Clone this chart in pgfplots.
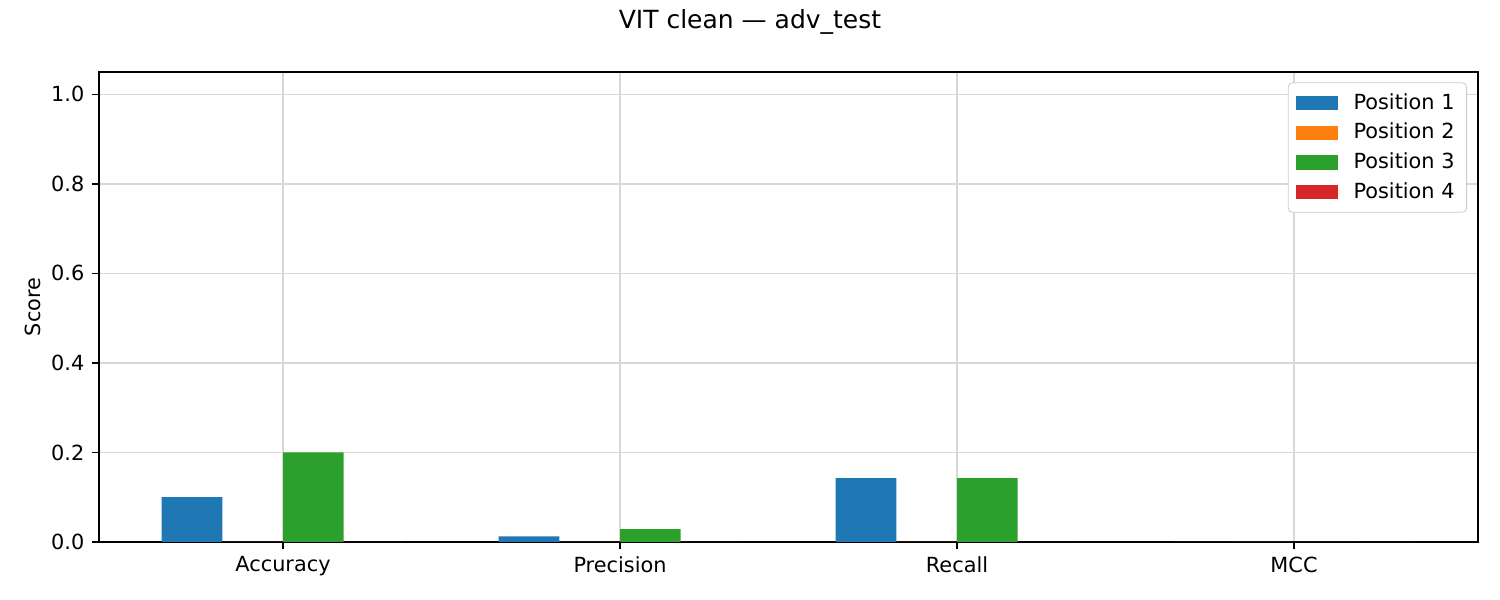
\documentclass[border=0pt]{standalone}
\usepackage{fontspec}
\setmainfont{DejaVu Sans}
\usepackage{pgfplots}
\pgfplotsset{compat=1.18}
\definecolor{c1}{HTML}{1F77B4}
\definecolor{c2}{HTML}{FF7F0E}
\definecolor{c3}{HTML}{2CA02C}
\definecolor{c4}{HTML}{D62728}
\definecolor{gridc}{RGB}{216,216,216}
\begin{document}
\begin{tikzpicture}
\useasboundingbox (0,0) rectangle (720pt,288pt);
\begin{axis}[
  at={(47.52pt,27.84pt)}, anchor=south west,
  scale only axis, width=661.92pt, height=225.6pt,
  xmin=-0.546, xmax=3.546, ymin=0, ymax=1.05,
  xtick={0,1,2,3}, xticklabels={Accuracy,Precision,Recall,MCC},
  ytick={0,0.2,0.4,0.6,0.8,1.0},
  yticklabel style={/pgf/number format/.cd,fixed,fixed zerofill,precision=1},
  /pgf/number format/assume math mode=true,
  ticklabel style={font=\fontsize{10}{12}\selectfont},
  tick align=outside, major tick length=3.5pt,
  tick style={black, line width=0.8pt},
  xtick pos=bottom, ytick pos=left,
  axis line style={line width=0.8pt},
  grid=major,
  major grid style={gridc, line width=0.8pt},
  ylabel={Score},
  ylabel style={font=\fontsize{10}{12}\selectfont, at={(axis description cs:-0.0479,0.5)}, anchor=center},
  ybar, bar width=0.18,
  legend style={at={(1,1)}, anchor=north east, xshift=-5.28pt, yshift=-5.0pt,
    draw={rgb,255:red,204;green,204;blue,204}, rounded corners=2pt, fill=white,
    font=\fontsize{10}{12}\selectfont, row sep=1.25pt, inner xsep=3.8pt, inner ysep=3pt},
  legend cell align=left,
  legend image code/.code={\fill[#1, sharp corners] (0pt,-3.4pt) rectangle (20pt,3.4pt); \path (25.5pt,0pt);},
]
\addplot[fill=c1, draw=none, bar shift=-0.27] coordinates {(0,0.1) (1,0.0127) (2,0.1429) (3,0)};
\addplot[fill=c2, draw=none, bar shift=-0.09] coordinates {(0,0) (1,0) (2,0) (3,0)};
\addplot[fill=c3, draw=none, bar shift=0.09] coordinates {(0,0.2) (1,0.0286) (2,0.1429) (3,0)};
\addplot[fill=c4, draw=none, bar shift=0.27] coordinates {(0,0) (1,0) (2,0) (3,0)};
\legend{Position 1,Position 2,Position 3,Position 4}
\end{axis}
\node[font=\fontsize{12}{14}\selectfont] at (360pt,277.44pt) {VIT clean — adv\_test};
\end{tikzpicture}
\end{document}
